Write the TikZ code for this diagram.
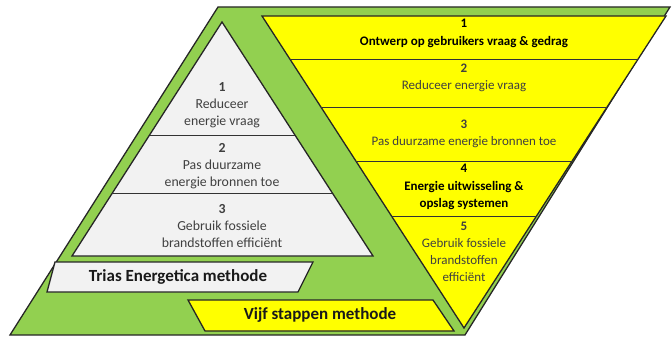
\documentclass[tikz,border=0pt]{standalone}
\usepackage{fontspec}
\setmainfont{Carlito}
\usetikzlibrary{calc}

\definecolor{framegreen}{HTML}{92D050}
\definecolor{stepyellow}{HTML}{FFFF00}
\definecolor{triasgrey}{HTML}{F2F2F2}
\definecolor{textgrey}{HTML}{404040}

\begin{document}
\begin{tikzpicture}[
		x=1pt, y=-1pt, % pixel-like coordinates, y pointing down
		line join=miter,
		outline/.style={draw=black!85, line width=1.3pt},
		divider/.style={draw=black!80, line width=0.9pt},
		steptext/.style={align=center, text=textgrey, inner sep=0pt,
			font=\fontsize{13}{16.8}\selectfont},
		triastext/.style={steptext, font=\fontsize{13.8}{16.8}\selectfont},
		boldtext/.style={steptext, text=black,
			font=\fontsize{13}{17.5}\selectfont\bfseries},
		methodtext/.style={text=black!90, inner sep=0pt,
			font=\fontsize{17}{20}\selectfont\bfseries}
		]
		
		\useasboundingbox (0,0) rectangle (672,337);
		
		% --- 1. Green frame (parallelogram) ---
		\draw[outline, fill=framegreen] (10,335) -- (218,7) -- (670,7) -- (465,335) -- cycle;
		
		% --- 2. Trias Energetica pyramid ---
		\coordinate (tTop) at (222,22);
		\coordinate (tLeft) at (72,256);
		\coordinate (tRight) at (373,256);
		\draw[outline, fill=triasgrey] (tTop) -- (tLeft) -- (tRight) -- cycle;
		\foreach \t in {0.483, 0.731} {
			\draw[divider] ($(tTop)!\t!(tLeft)$) -- ($(tTop)!\t!(tRight)$);
		}
		
		% --- 3. Five steps (inverted triangle) ---
		\coordinate (vLeft) at (262,16);
		\coordinate (vRight) at (666,16);
		\coordinate (vTip) at (464,328);
		\draw[outline, fill=stepyellow] (vLeft) -- (vRight) -- (vTip) -- cycle;
		\foreach \t in {0.138, 0.292, 0.465, 0.641} {
			\draw[divider] ($(vLeft)!\t!(vTip)$) -- ($(vRight)!\t!(vTip)$);
		}
		
		% --- 4. Step labels ---
		% Trias Energetica
		\node[triastext] (trias1) at (222,105) {{\bfseries 1}\\Reduceer\\energie vraag};
		\node[triastext] (trias2) at (222,166) {{\bfseries 2}\\Pas duurzame\\energie bronnen toe};
		\node[triastext] (trias3) at (222,226) {{\bfseries 3}\\Gebruik fossiele\\brandstoffen efficiënt};
		
		% Vijf stappen
		\node[boldtext] (step1) at (464,33.5) {1\\Ontwerp op gebruikers vraag \& gedrag};
		\node[steptext] (step2) at (464,77.5) {{\bfseries 2}\\Reduceer energie vraag};
		\node[steptext] (step3) at (464,134) {{\bfseries 3}\\Pas duurzame energie bronnen toe};
		\node[boldtext] (step4) at (464,187) {4\\Energie uitwisseling \&\\opslag systemen};
		\node[steptext] (step5) at (464,252) {{\bfseries 5}\\Gebruik fossiele\\brandstoffen\\efficiënt};
		
		% --- 5. Method banners ---
		\draw[outline, fill=triasgrey] (55,262) -- (313,262) -- (298,292) -- (47,292) -- cycle;
		\node[methodtext] (triasLabel) at (178,277) {Trias Energetica methode};
		
		\draw[outline, fill=stepyellow] (188,300) -- (433,300) -- (454,331) -- (205,331) -- cycle;
		\node[methodtext] (vijfLabel) at (320,315) {Vijf stappen methode};
		
	\end{tikzpicture}
\end{document}
